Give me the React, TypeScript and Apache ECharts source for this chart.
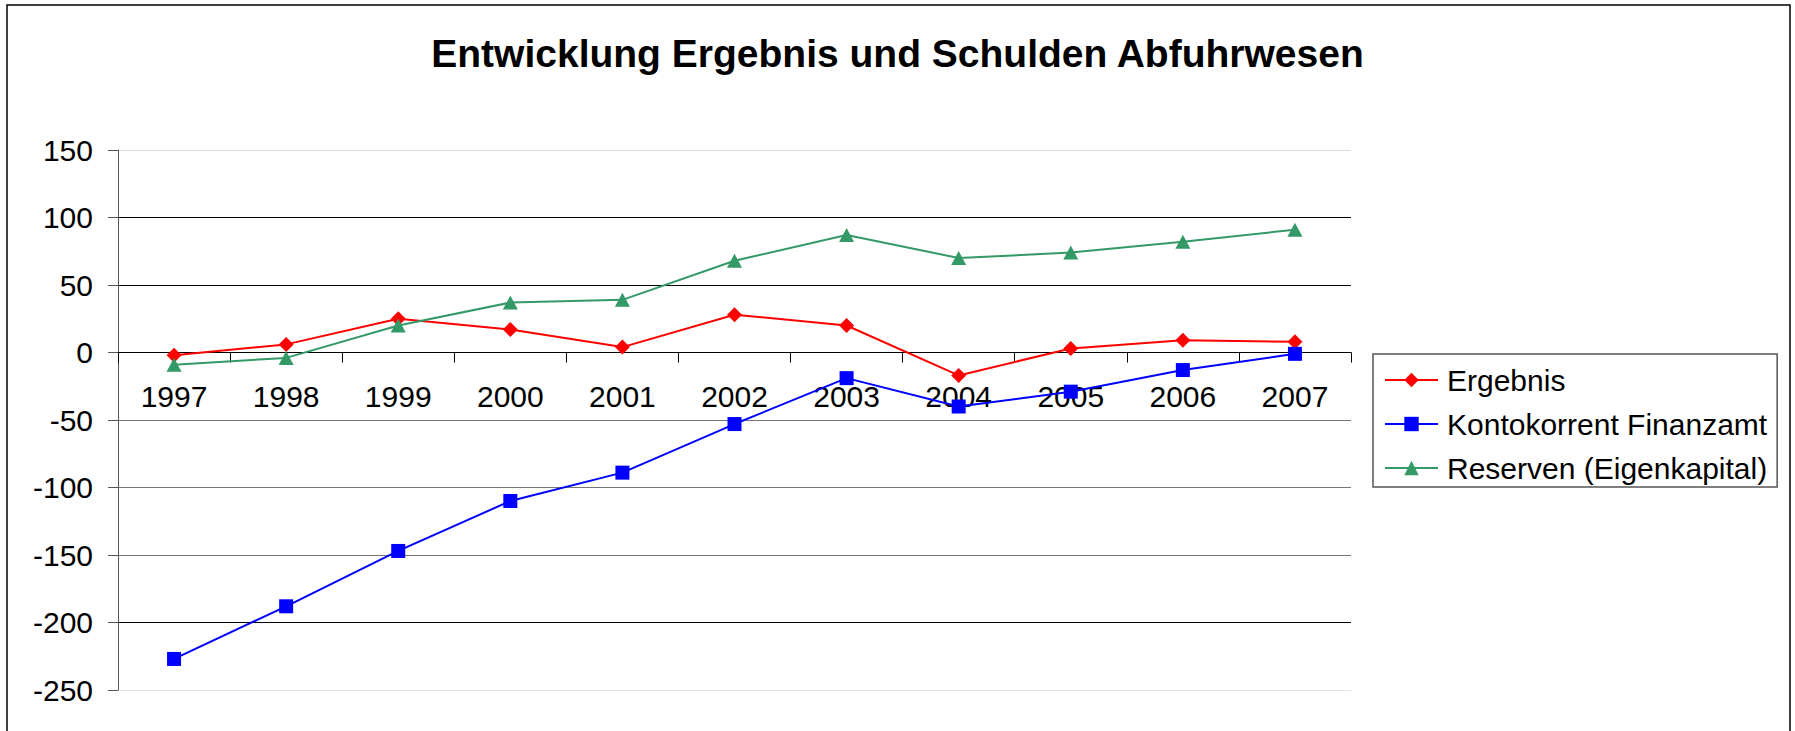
import React, { useEffect, useRef } from "react";
import * as echarts from "echarts";

const TITLE = "Entwicklung Ergebnis und Schulden Abfuhrwesen";
const YEARS = ["1997", "1998", "1999", "2000", "2001", "2002", "2003", "2004", "2005", "2006", "2007"];
const ERGEBNIS = [-2, 6, 25, 17, 4, 28, 20, -17, 3, 9, 8];
const KONTOKORRENT = [-227, -188, -147, -110, -89, -53, -19, -40, -29, -13, -1];
const RESERVEN = [-9, -4, 20, 37, 39, 68, 87, 70, 74, 82, 91];
const SERIES_NAMES = ["Ergebnis", "Kontokorrent Finanzamt", "Reserven (Eigenkapital)"];
const Y_MIN = -250;
const Y_MAX = 150;
const Y_STEP = 50;

const FONT = "'Liberation Sans', Arial, Helvetica, sans-serif";

const GRID_TOP = 150;
const GRID_BOTTOM = 41;
const CHART_H = 731;

export default function App() {
  const ref = useRef<HTMLDivElement>(null);

  useEffect(() => {
    if (!ref.current) return;
    const chart = echarts.init(ref.current, null, { renderer: "svg" });
    const plotH = CHART_H - GRID_TOP - GRID_BOTTOM;
    // distance from the bottom of the plot up to the zero line
    const zeroOffset = (plotH * (0 - Y_MIN)) / (Y_MAX - Y_MIN);
    const mkSeries = (name: string, data: number[], color: string, symbol: string, size: number[]) => ({
      name,
      type: "line",
      data,
      symbol,
      symbolSize: size,
      showSymbol: true,
      lineStyle: { color, width: 2 },
      itemStyle: { color },
      emphasis: { disabled: true },
    });
    chart.setOption({
      animation: false,
      backgroundColor: "#ffffff",
      textStyle: { fontFamily: FONT },
      title: {
        text: TITLE,
        left: "center",
        top: 29,
        textStyle: { fontFamily: FONT, fontWeight: "bold", fontSize: 39, color: "#000" },
      },
      graphic: [
        {
          type: "rect",
          shape: { x: 7, y: 5, width: 1783, height: 760 },
          style: { fill: "none", stroke: "#000", lineWidth: 1.5 },
          silent: true,
          z: -1,
        },
      ],
      legend: {
        orient: "vertical",
        left: 1373,
        top: 354,
        padding: [11, 10, 4, 11],
        itemGap: 14,
        itemWidth: 53,
        itemHeight: 18,
        borderColor: "#555",
        borderWidth: 1.5,
        borderRadius: 0,
        textStyle: { fontFamily: FONT, fontSize: 30, color: "#000", padding: [0, 0, 0, 4] },
        data: SERIES_NAMES,
      },
      grid: {
        left: 118,
        right: 444,
        top: GRID_TOP,
        bottom: GRID_BOTTOM,
        containLabel: false,
        outerBoundsMode: "none",
      },
      xAxis: {
        type: "category",
        data: YEARS,
        boundaryGap: true,
        position: "bottom",
        offset: -zeroOffset,
        axisLine: { show: true, onZero: false, lineStyle: { color: "#000", width: 1 } },
        axisTick: { show: true, length: 10, alignWithLabel: false, lineStyle: { color: "#000" } },
        axisLabel: { fontFamily: FONT, fontSize: 30, color: "#000", margin: 29 },
        splitLine: { show: false },
      },
      yAxis: {
        type: "value",
        min: Y_MIN,
        max: Y_MAX,
        interval: Y_STEP,
        axisLine: { show: true, lineStyle: { color: "#555", width: 1 } },
        axisTick: { show: true, length: 10, lineStyle: { color: "#555" } },
        axisLabel: { fontFamily: FONT, fontSize: 30, color: "#000", margin: 25 },
        splitLine: {
          show: true,
          lineStyle: {
            color: ["#e4e4e4", "#000", "#777", "#777", "#777", "#000", "#000", "#000", "#dcdcdc"],
            width: 1,
          },
        },
      },
      series: [
        mkSeries(SERIES_NAMES[0], ERGEBNIS, "#ff0000", "diamond", [15, 15]),
        mkSeries(SERIES_NAMES[1], KONTOKORRENT, "#0000ff", "rect", [14, 14]),
        mkSeries(SERIES_NAMES[2], RESERVEN, "#339966", "triangle", [15, 14]),
      ],
    });
    return () => chart.dispose();
  }, []);

  return (
    <div
      ref={ref}
      style={{ position: "fixed", left: 0, top: 0, width: 1795, height: CHART_H, background: "#fff" }}
    />
  );
}
